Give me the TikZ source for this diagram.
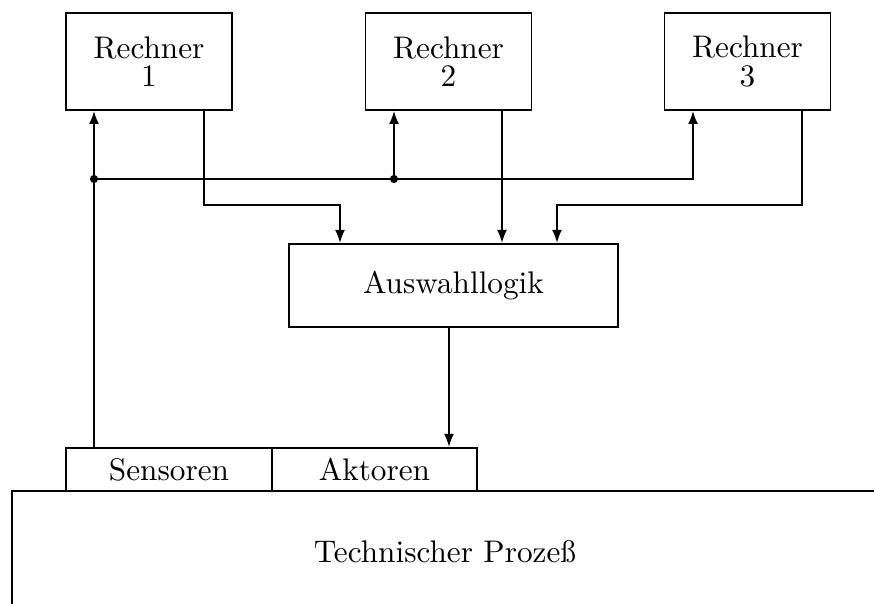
\documentclass[tikz,border=0pt]{standalone}
\usetikzlibrary{arrows.meta}
\begin{document}
\begin{tikzpicture}[x=0.32pt,y=-0.32pt,
  box/.style={draw,line width=0.6pt,inner sep=0pt,align=center},
  arr/.style={line width=0.6pt,-{Latex[length=4.2pt,width=3.2pt]}},
  wire/.style={line width=0.6pt}]
\useasboundingbox (0,0) rectangle (874,604);
\clip (0,0) rectangle (874,604);
\node[box,minimum width=53.1pt,minimum height=31pt] (R1) at (149,61.5) {Rechner\\[-3pt]1};
\node[box,minimum width=53.1pt,minimum height=31pt] (R2) at (448.5,61.5) {Rechner\\[-3pt]2};
\node[box,minimum width=53.1pt,minimum height=31pt] (R3) at (747.5,61.5) {Rechner\\[-3pt]3};
\node[box,minimum width=105.3pt,minimum height=26.6pt] (Aus) at (453.5,285.5) {Auswahllogik};
\node[box,minimum width=65.9pt,minimum height=13.8pt] (Sens) at (169,469.5) {Sensoren};
\node[box,minimum width=65.6pt,minimum height=13.8pt] (Akt) at (374.5,469.5) {Aktoren};
\draw[wire] (12,700) -- (12,491) -- (950,491);
\node (TP) at (445,552) {Technischer Proze\ss};
\coordinate (b1) at (94,179);
\coordinate (b2) at (394,179);
\coordinate (b3) at (693,179);
\coordinate (o1) at (204,205);
\coordinate (a1) at (340,205);
\coordinate (o2) at (502,205);
\coordinate (o3) at (802,205);
\coordinate (a3) at (557,205);
\coordinate (o4) at (449,400);
\draw[arr] (Sens.north -| b1) -- (R1.south -| b1);
\draw[arr] (b2) -- (R2.south -| b2);
\draw[arr] (b1) -- (b3) -- (R3.south -| b3);
\fill (b1) circle (1.3pt);
\fill (b2) circle (1.3pt);
\draw[arr] (R1.south -| o1) -- (o1) -- (a1) -- (Aus.north -| a1);
\draw[arr] (R2.south -| o2) -- (Aus.north -| o2);
\draw[arr] (R3.south -| o3) -- (o3) -- (a3) -- (Aus.north -| a3);
\draw[arr] (Aus.south -| o4) -- (Akt.north -| o4);
\end{tikzpicture}
\end{document}
